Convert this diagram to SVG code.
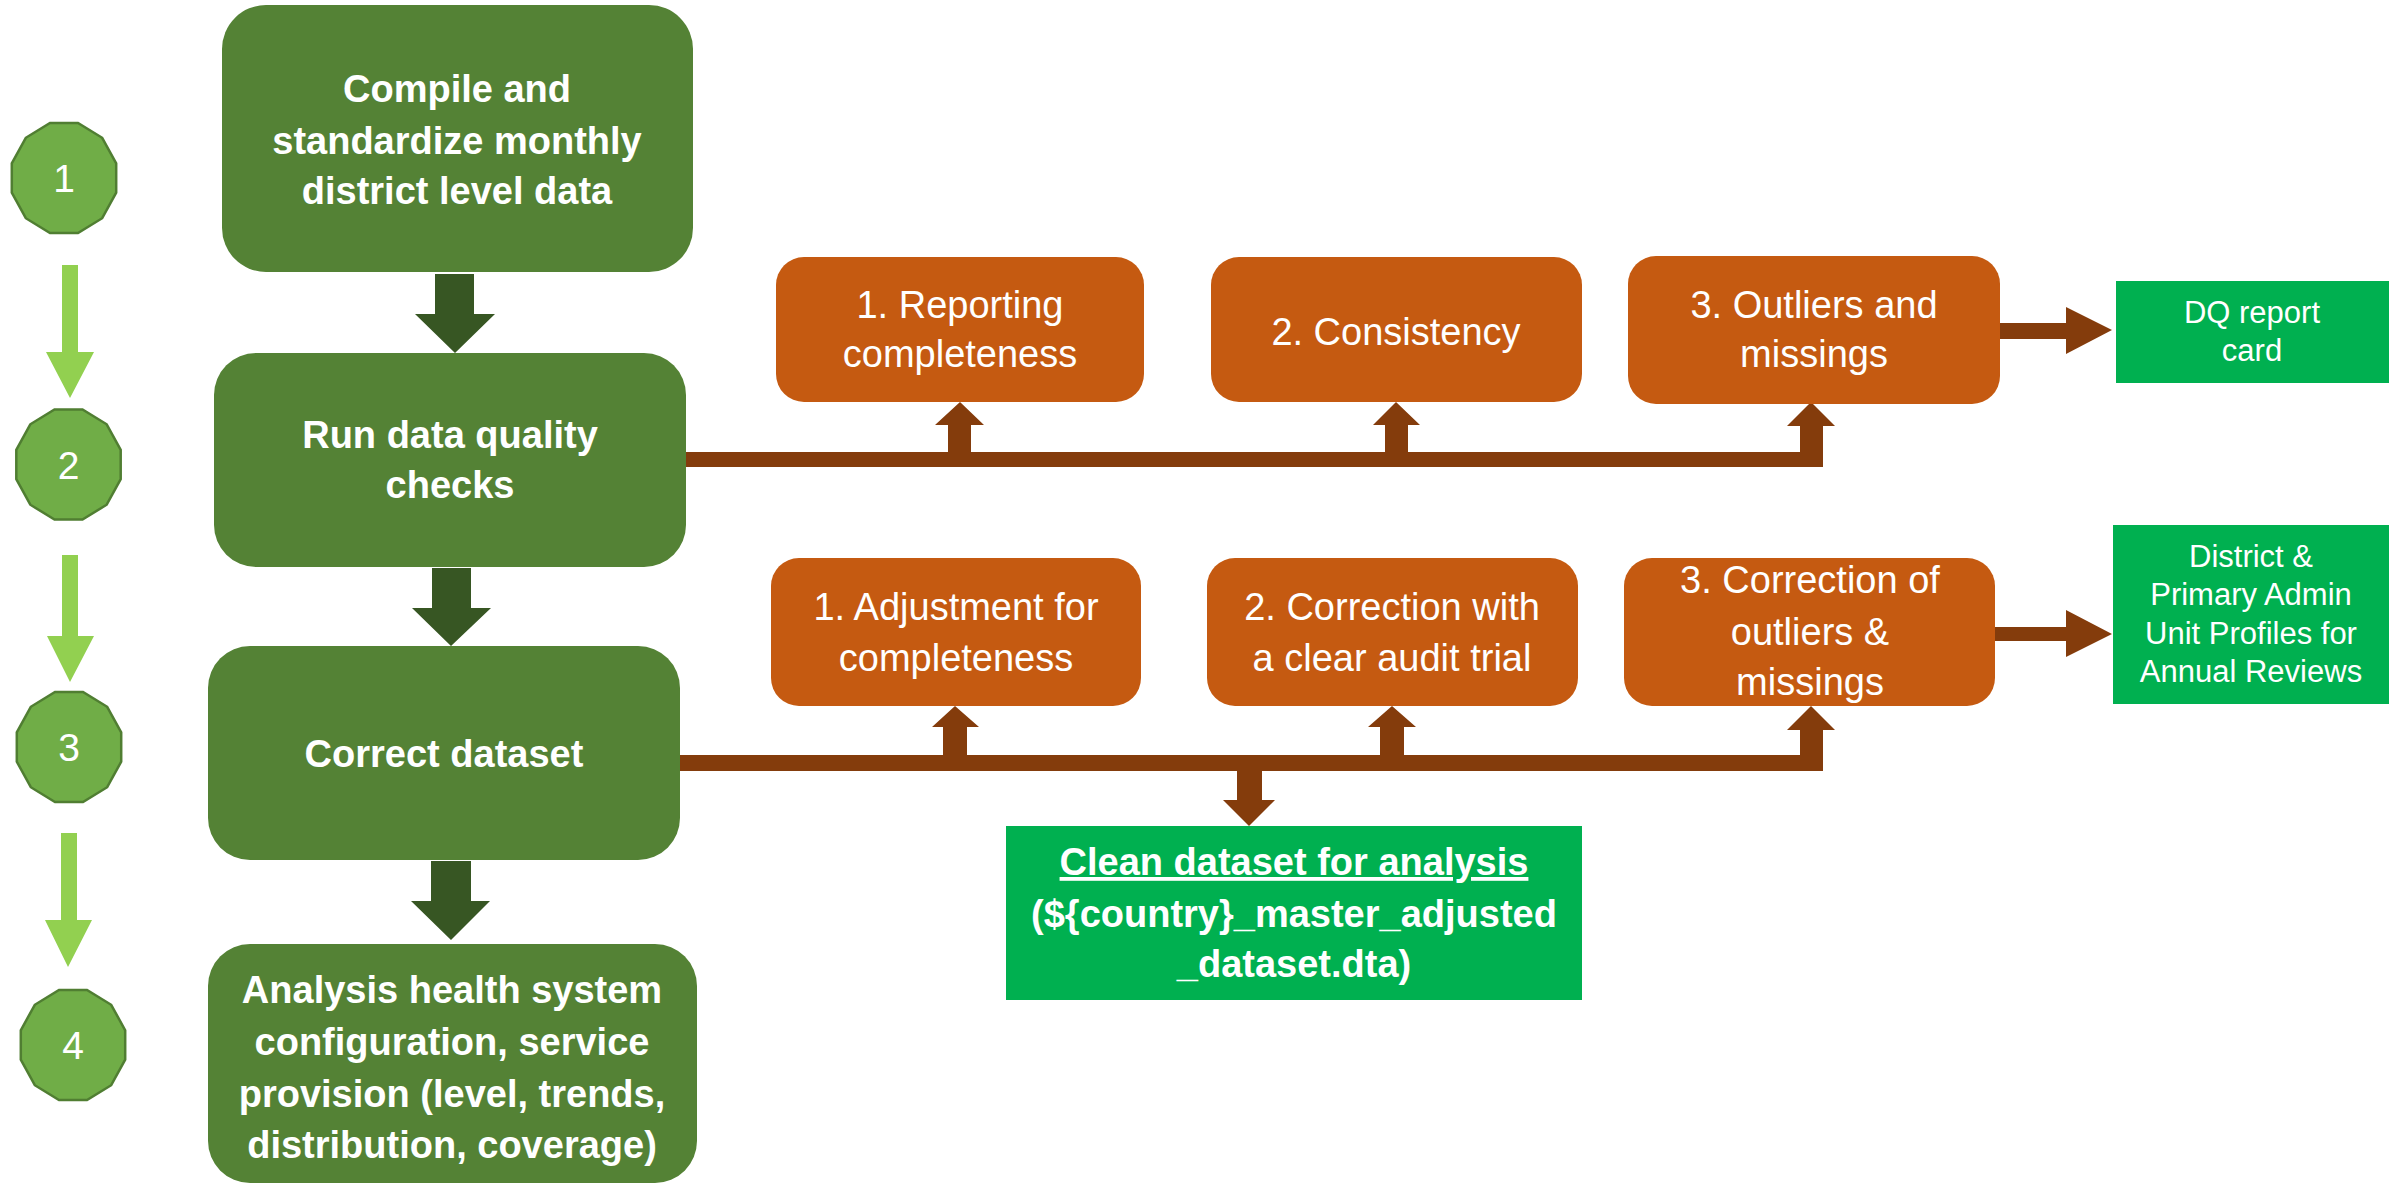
<svg xmlns="http://www.w3.org/2000/svg" width="2399" height="1186" viewBox="0 0 2399 1186">
<style>
.main{fill:#548235}
.step{fill:#70AD47;stroke:#507E32;stroke-width:2.5}
.orange{fill:#C55A11}
.out{fill:#00B050}
.brown{fill:#843C0C}
.lg{fill:#92D050}
.dg{fill:#375623}
text{fill:#fff;font-family:"Liberation Sans",Arial,sans-serif;text-anchor:middle}
.tb{font-weight:bold;font-size:38px}
.to{font-size:38px}
.tg{font-size:31px}
.tn{font-size:39px}
</style>
<defs>
<polygon id="dodec" points="52.2,-14.7 38.2,-40.2 14,-55 -14,-55 -38.2,-40.2 -52.2,-14.7 -52.2,14.7 -38.2,40.2 -14,55 14,55 38.2,40.2 52.2,14.7"/>
</defs>
<rect width="2399" height="1186" fill="#fff"/>

<g id="connectors">
  <polygon class="lg" points="62,265 78,265 78,352 94,352 70,398 46,352 62,352"/>
  <polygon class="lg" points="62,555 78,555 78,636 94,636 70,682 47,636 62,636"/>
  <polygon class="lg" points="61,833 77,833 77,920 92,920 68,967 45,920 61,920"/>
  <polygon class="dg" points="435,274 474,274 474,314 495,314 455,353 415,314 435,314"/>
  <polygon class="dg" points="432,568 471,568 471,608 491,608 451,646 412,608 432,608"/>
  <polygon class="dg" points="431,861 471,861 471,901 490,901 451,940 411,901 431,901"/>
  <rect class="brown" x="686" y="452" width="1137" height="15"/>
  <polygon class="brown" points="948,452 948,425 935,425 960,402 984,425 971,425 971,452"/>
  <polygon class="brown" points="1385,452 1385,425 1373,425 1396,402 1420,425 1408,425 1408,452"/>
  <polygon class="brown" points="1800,452 1800,426 1787,426 1811,402 1835,426 1823,426 1823,467 1800,467"/>
  <polygon class="brown" points="1998,323 2066,323 2066,307 2112,330 2066,354 2066,339 1998,339"/>
  <rect class="brown" x="680" y="755" width="1143" height="16"/>
  <polygon class="brown" points="943,755 943,727 932,727 955,706 979,727 967,727 967,755"/>
  <polygon class="brown" points="1380,755 1380,727 1368,727 1392,706 1416,727 1404,727 1404,755"/>
  <polygon class="brown" points="1800,755 1800,730 1787,730 1811,706 1835,730 1823,730 1823,771 1800,771"/>
  <polygon class="brown" points="1237,771 1262,771 1262,800 1275,800 1249,826 1223,800 1237,800"/>
  <polygon class="brown" points="1995,627 2066,627 2066,610 2112,634 2066,657 2066,641 1995,641"/>
</g>

<g id="step1"><use href="#dodec" class="step" transform="translate(64,178)"/><text class="tn" x="64" y="192">1</text></g>
<g id="step2"><use href="#dodec" class="step" transform="translate(68.5,464.5)"/><text class="tn" x="68.5" y="479">2</text></g>
<g id="step3"><use href="#dodec" class="step" transform="translate(69,747)"/><text class="tn" x="69" y="761">3</text></g>
<g id="step4"><use href="#dodec" class="step" transform="translate(73,1045)"/><text class="tn" x="73" y="1059">4</text></g>

<g id="compile">
  <rect class="main" x="222" y="5" width="471" height="267" rx="44"/>
  <text class="tb" x="457" y="102">Compile and</text>
  <text class="tb" x="457" y="154">standardize monthly</text>
  <text class="tb" x="457" y="204">district level data</text>
</g>
<g id="run-dq">
  <rect class="main" x="214" y="353" width="472" height="214" rx="42"/>
  <text class="tb" x="450" y="448">Run data quality</text>
  <text class="tb" x="450" y="498">checks</text>
</g>
<g id="correct">
  <rect class="main" x="208" y="646" width="472" height="214" rx="42"/>
  <text class="tb" x="444" y="767">Correct dataset</text>
</g>
<g id="analysis">
  <rect class="main" x="208" y="944" width="489" height="239" rx="42"/>
  <text class="tb" x="452" y="1003">Analysis health system</text>
  <text class="tb" x="452" y="1055">configuration, service</text>
  <text class="tb" x="452" y="1107">provision (level, trends,</text>
  <text class="tb" x="452" y="1158">distribution, coverage)</text>
</g>

<g id="reporting-completeness">
  <rect class="orange" x="776" y="257" width="368" height="145" rx="28"/>
  <text class="to" x="960" y="318">1. Reporting</text>
  <text class="to" x="960" y="367">completeness</text>
</g>
<g id="consistency">
  <rect class="orange" x="1211" y="257" width="371" height="145" rx="28"/>
  <text class="to" x="1396" y="345">2. Consistency</text>
</g>
<g id="outliers">
  <rect class="orange" x="1628" y="256" width="372" height="148" rx="28"/>
  <text class="to" x="1814" y="318">3. Outliers and</text>
  <text class="to" x="1814" y="367">missings</text>
</g>
<g id="dq-report">
  <rect class="out" x="2116" y="281" width="273" height="102"/>
  <text class="tg" x="2252" y="323">DQ report</text>
  <text class="tg" x="2252" y="361">card</text>
</g>

<g id="adjustment">
  <rect class="orange" x="771" y="558" width="370" height="148" rx="28"/>
  <text class="to" x="956" y="620">1. Adjustment for</text>
  <text class="to" x="956" y="671">completeness</text>
</g>
<g id="audit">
  <rect class="orange" x="1207" y="558" width="371" height="148" rx="28"/>
  <text class="to" x="1392" y="620">2. Correction with</text>
  <text class="to" x="1392" y="671">a clear audit trial</text>
</g>
<g id="correction-outliers">
  <rect class="orange" x="1624" y="558" width="371" height="148" rx="28"/>
  <text class="to" x="1810" y="593">3. Correction of</text>
  <text class="to" x="1810" y="645">outliers &amp;</text>
  <text class="to" x="1810" y="695">missings</text>
</g>
<g id="profiles">
  <rect class="out" x="2113" y="525" width="276" height="179"/>
  <text class="tg" x="2251" y="567">District &amp;</text>
  <text class="tg" x="2251" y="605">Primary Admin</text>
  <text class="tg" x="2251" y="644">Unit Profiles for</text>
  <text class="tg" x="2251" y="682">Annual Reviews</text>
</g>
<g id="clean-dataset">
  <rect class="out" x="1006" y="826" width="576" height="174"/>
  <text class="tb" x="1294" y="875" font-size="37" text-decoration="underline">Clean dataset for analysis</text>
  <text class="tb" x="1294" y="927" font-size="37">(${country}_master_adjusted</text>
  <text class="tb" x="1294" y="977" font-size="37">_dataset.dta)</text>
</g>
</svg>
